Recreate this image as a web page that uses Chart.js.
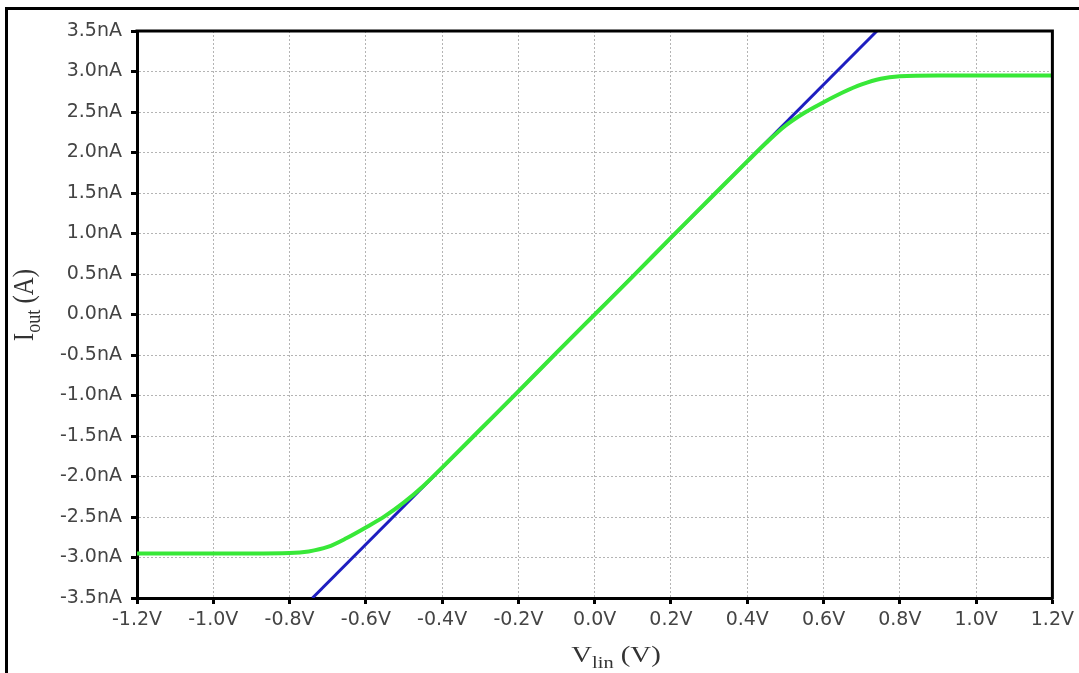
<!DOCTYPE html>
<html>
<head>
<meta charset="utf-8">
<script src="https://cdn.jsdelivr.net/npm/chart.js@4/dist/chart.umd.min.js"></script>
<style>
  html, body { margin: 0; padding: 0; background: #fff; }
  #wrap { position: relative; width: 1079px; height: 673px; overflow: hidden; }
  #frame { position: absolute; left: 5px; top: 7px; width: 1200px; height: 800px;
           border-left: 3px solid #000; border-top: 3px solid #000; }
  canvas { position: absolute; left: 0; top: 0; }
</style>
</head>
<body>
<div id="wrap">
  <div id="frame"></div>
  <canvas id="ivChart" width="1079" height="673"></canvas>
</div>
<script>
// tick values and labels
const xTickValues = [-1.2, -1.0, -0.8, -0.6, -0.4, -0.2, 0.0, 0.2, 0.4, 0.6, 0.8, 1.0, 1.2];
const xTickLabels = ["-1.2V", "-1.0V", "-0.8V", "-0.6V", "-0.4V", "-0.2V", "0.0V", "0.2V", "0.4V", "0.6V", "0.8V", "1.0V", "1.2V"];
const yTickValues = [-3.5, -3.0, -2.5, -2.0, -1.5, -1.0, -0.5, 0.0, 0.5, 1.0, 1.5, 2.0, 2.5, 3.0, 3.5];
const yTickLabels = ["-3.5nA", "-3.0nA", "-2.5nA", "-2.0nA", "-1.5nA", "-1.0nA", "-0.5nA", "0.0nA", "0.5nA", "1.0nA", "1.5nA", "2.0nA", "2.5nA", "3.0nA", "3.5nA"];

// ideal linear response (V, nA)
const idealV = [-0.74, 0.74];
const idealI = [-3.5, 3.5];

// simulated output current (V, nA)
const outV = [-1.2, -1.0, -0.9, -0.8, -0.75, -0.7, -0.65, -0.6, -0.55, -0.5, -0.45, -0.4, -0.3, -0.2, -0.1, 0.0,
              0.1, 0.2, 0.3, 0.4, 0.45, 0.5, 0.55, 0.6, 0.65, 0.7, 0.75, 0.8, 0.9, 1.0, 1.2];
const outI = [-2.95, -2.95, -2.95, -2.945, -2.925, -2.87, -2.76, -2.63, -2.49, -2.32, -2.12, -1.89, -1.42, -0.95, -0.47, 0.0,
              0.47, 0.95, 1.42, 1.89, 2.12, 2.33, 2.49, 2.62, 2.74, 2.84, 2.91, 2.94, 2.95, 2.95, 2.95];

const toPoints = (xs, ys) => xs.map((x, i) => ({ x: x, y: ys[i] }));

// draws "main" + subscript + rest, centred on the current origin
function subText(ctx, main, sub, rest, size) {
  const big = size + 'px "Liberation Serif"';
  const small = Math.round(size * 0.72) + 'px "Liberation Serif"';
  ctx.font = big;
  const w1 = ctx.measureText(main).width;
  const w3 = ctx.measureText(rest).width;
  ctx.font = small;
  const w2 = ctx.measureText(sub).width;
  let x = -(w1 + w2 + w3) / 2;
  ctx.font = big;
  ctx.fillText(main, x, 0);
  x += w1;
  ctx.font = small;
  ctx.fillText(sub, x, size * 0.24);
  x += w2;
  ctx.font = big;
  ctx.fillText(rest, x, 0);
}

const decorations = {
  id: "decorations",
  afterDraw(chart) {
    const ctx = chart.ctx;
    const a = chart.chartArea;
    ctx.save();
    // top and right edges of the plot box
    ctx.strokeStyle = "#000";
    ctx.lineWidth = 3;
    ctx.beginPath();
    ctx.moveTo(a.left - 1.5, a.top);
    ctx.lineTo(a.right, a.top);
    ctx.lineTo(a.right, a.bottom + 1.5);
    ctx.stroke();

    ctx.fillStyle = "#333";
    ctx.textBaseline = "alphabetic";
    ctx.textAlign = "left";

    ctx.save();
    ctx.translate(616, 662);
    ctx.scale(1.2, 1);
    subText(ctx, "V", "lin", " (V)", 24);
    ctx.restore();

    ctx.save();
    ctx.translate(33, 305);
    ctx.scale(1.2, 1);
    ctx.rotate(-Math.PI / 2);
    subText(ctx, "I", "out", " (A)", 25);
    ctx.restore();

    ctx.restore();
  }
};

const tickFont = { family: "DejaVu Sans", size: 19 };

new Chart(document.getElementById("ivChart"), {
  type: "line",
  data: {
    datasets: [
      {
        label: "Iout",
        data: toPoints(outV, outI),
        borderColor: "#38e838",
        borderWidth: 4,
        pointRadius: 0,
        cubicInterpolationMode: "monotone"
      },
      {
        label: "ideal",
        data: toPoints(idealV, idealI),
        borderColor: "#1e1ec0",
        borderWidth: 3,
        pointRadius: 0
      }
    ]
  },
  options: {
    responsive: false,
    animation: false,
    layout: { padding: { left: 0, top: 31, right: 26, bottom: 0 } },
    plugins: {
      legend: { display: false },
      tooltip: { enabled: false }
    },
    scales: {
      x: {
        type: "linear",
        min: -1.2,
        max: 1.2,
        afterBuildTicks: s => { s.ticks = xTickValues.map(v => ({ value: v })); },
        afterFit: s => { s.height = 75; },
        ticks: {
          callback: (v, i) => xTickLabels[i],
          font: tickFont,
          color: "#444",
          padding: 5,
          maxRotation: 0,
          autoSkip: false
        },
        grid: { color: "#b4b4b4", lineWidth: 1, tickLength: 6, tickWidth: 3, tickColor: "#000" },
        border: { color: "#000", width: 3, dash: [2, 2] }
      },
      y: {
        type: "linear",
        min: -3.5,
        max: 3.5,
        afterBuildTicks: s => { s.ticks = yTickValues.map(v => ({ value: v })); },
        afterFit: s => { s.width = 137; },
        ticks: {
          callback: (v, i) => yTickLabels[i],
          font: tickFont,
          color: "#444",
          padding: 9,
          autoSkip: false
        },
        grid: { color: "#b4b4b4", lineWidth: 1, tickLength: 6, tickWidth: 3, tickColor: "#000" },
        border: { color: "#000", width: 3, dash: [2, 2] }
      }
    }
  },
  plugins: [decorations]
});
</script>
</body>
</html>
